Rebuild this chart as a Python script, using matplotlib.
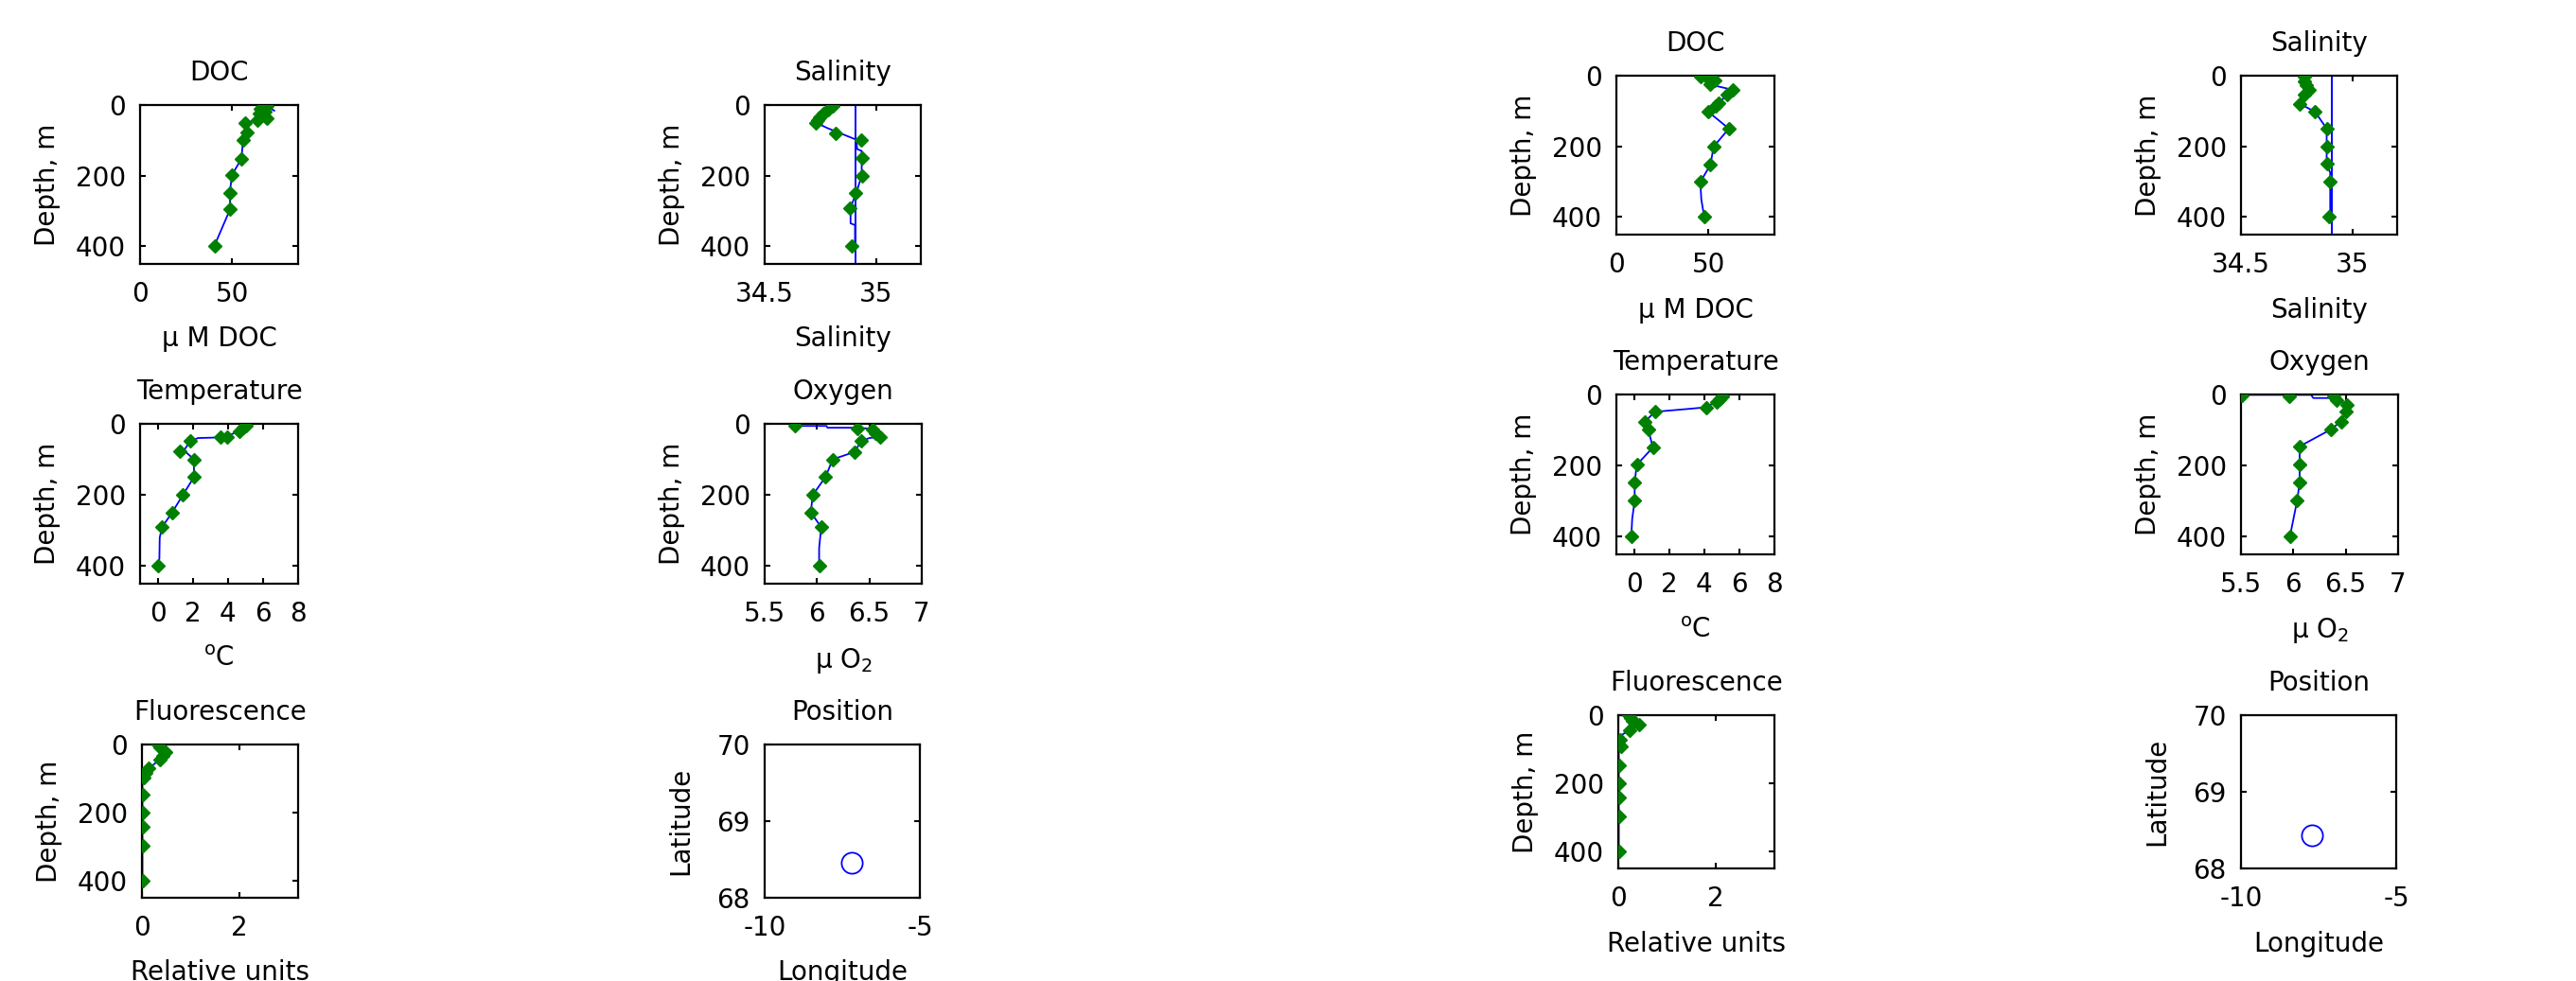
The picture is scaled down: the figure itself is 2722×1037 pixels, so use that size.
import matplotlib
matplotlib.use('Agg')
import matplotlib.pyplot as plt

plt.rcParams['font.family'] = ['DejaVu Sans']
plt.rcParams['font.size'] = 20
plt.rcParams['mathtext.fontset'] = 'dejavusans'

# ---------------- data: left station ----------------
doc_z_L = [3, 11, 20, 25, 38, 43, 50, 78, 100, 152, 198, 250, 294, 398]
doc_v_L = [69, 65.5, 68, 64.7, 69, 63.8, 57.4, 58.3, 56, 55.2, 50, 48.8, 49.1, 40.5]
doc_line_z_L = [16, 3, 11, 20, 25, 38, 43, 50, 78, 100, 152, 198, 250, 294, 398]
doc_line_v_L = [73, 69, 65.5, 68, 64.7, 69, 63.8, 57.4, 58.3, 56, 55.2, 50, 48.8, 49.1, 40.5]

sal_z_L = [3, 14, 25, 36, 44, 52, 80, 100, 149, 200, 250, 292, 398]
sal_v_L = [34.807, 34.786, 34.765, 34.748, 34.737, 34.73, 34.82, 34.932, 34.939, 34.939, 34.907, 34.882, 34.892]
sal_line_z_L = [3, 50, 65, 98, 125, 130, 200, 250, 290, 335, 340, 400]
sal_line_v_L = [34.83, 34.73, 34.78, 34.91, 34.915, 34.935, 34.935, 34.91, 34.885, 34.885, 34.905, 34.905]

tem_z_L = [4, 11, 20, 36, 36, 49, 78, 100, 149, 200, 249, 291, 400]
tem_v_L = [5.04, 4.85, 4.67, 3.95, 3.58, 1.85, 1.25, 2.07, 2.07, 1.44, 0.82, 0.25, 0.0]
tem_line_z_L = [0, 10, 20, 36, 39, 40, 49, 75, 100, 150, 200, 250, 291, 320, 380, 400]
tem_line_v_L = [5.15, 4.9, 4.65, 3.9, 3.1, 2.3, 1.85, 1.5, 2.07, 2.07, 1.44, 0.82, 0.25, 0.12, 0.1, 0.0]

oxy_z_L = [6, 12, 17, 26, 36, 49, 79, 100, 150, 200, 249, 291, 400]
oxy_v_L = [5.79, 6.39, 6.53, 6.56, 6.6, 6.42, 6.36, 6.15, 6.08, 5.96, 5.94, 6.04, 6.02]
oxy_line_z_L = [6, 6, 11, 11, 14, 26, 36, 40, 49, 79, 100, 150, 200, 249, 291, 350, 400]
oxy_line_v_L = [5.79, 6.09, 6.1, 6.39, 6.52, 6.56, 6.62, 6.5, 6.42, 6.36, 6.15, 6.08, 5.96, 5.94, 6.04, 6.02, 6.02]

flu_z_L = [1, 9, 23, 32, 44, 69, 83, 97, 148, 201, 243, 296, 400]
flu_v_L = [0.33, 0.36, 0.49, 0.43, 0.36, 0.13, 0.07, 0.03, 0.01, 0.01, 0.01, 0.01, 0.01]
flu_line_z_L = [1, 9, 23, 32, 44, 60, 69, 83, 100, 148, 400]
flu_line_v_L = [0.33, 0.36, 0.49, 0.43, 0.36, 0.23, 0.13, 0.07, 0.01, 0.01, 0.01]

lon_L = [-7.21]
lat_L = [68.46]

# ---------------- data: right station ----------------
doc_z_R = [4, 9, 13, 25, 40, 53, 78, 87, 102, 150, 201, 252, 301, 400]
doc_v_R = [45.7, 50, 53.4, 50.9, 63.3, 60.3, 55.7, 54.3, 50, 61.2, 52.9, 51.2, 45.7, 47.8]
doc_line_z_R = [4, 9, 13, 25, 40, 53, 78, 87, 102, 150, 201, 252, 301, 350, 400]
doc_line_v_R = [45.7, 50, 53.4, 50.9, 63.3, 60.3, 55.7, 54.3, 50, 61.2, 52.9, 51.2, 45.7, 46.2, 47.8]

sal_z_R = [4, 16, 27, 40, 53, 80, 102, 150, 201, 250, 301, 400]
sal_v_R = [34.785, 34.785, 34.792, 34.807, 34.785, 34.764, 34.832, 34.884, 34.884, 34.884, 34.898, 34.895]
sal_line_z_R = [4, 16, 27, 40, 53, 80, 102, 150, 201, 250, 275, 301, 400]
sal_line_v_R = [34.785, 34.785, 34.792, 34.807, 34.785, 34.764, 34.832, 34.884, 34.884, 34.884, 34.9, 34.9, 34.9]

tem_z_R = [6, 13, 20, 36, 49, 78, 98, 149, 198, 248, 299, 399]
tem_v_R = [5.04, 4.89, 4.71, 4.1, 1.19, 0.59, 0.81, 1.08, 0.16, 0.04, 0.04, -0.15]
tem_line_z_R = [2, 13, 20, 36, 40, 47, 49, 78, 98, 149, 198, 248, 299, 350, 399]
tem_line_v_R = [5.1, 4.89, 4.71, 4.1, 3.24, 1.6, 1.19, 0.59, 0.81, 1.08, 0.16, 0.04, 0.04, -0.1, -0.15]

oxy_z_R = [2, 4, 6, 15, 29, 47, 76, 99, 146, 197, 248, 299, 400]
oxy_v_R = [5.506, 5.96, 6.385, 6.415, 6.515, 6.506, 6.455, 6.355, 6.06, 6.06, 6.06, 6.036, 5.967]
oxy_line_z_R = [1, 1, 10, 10, 15, 29, 47, 76, 99, 146, 197, 248, 299, 400]
oxy_line_v_R = [5.506, 6.17, 6.19, 6.385, 6.415, 6.515, 6.506, 6.455, 6.355, 6.06, 6.06, 6.06, 6.036, 5.967]

flu_z_R = [1, 9, 18, 28, 44, 72, 93, 148, 199, 243, 296, 400]
flu_v_R = [0.21, 0.26, 0.3, 0.43, 0.23, 0.03, 0.05, 0.01, 0.01, 0.01, 0.01, 0.01]
flu_line_z_R = [1, 9, 18, 28, 44, 60, 72, 93, 110, 148, 400]
flu_line_v_R = [0.21, 0.26, 0.3, 0.43, 0.23, 0.05, 0.03, 0.05, 0.01, 0.01, 0.01]

lon_R = [-7.70]
lat_R = [68.43]

sal_ref = 34.908   # reference salinity line

# ---------------- layout ----------------
W, H = 2722, 1037
fig = plt.figure(figsize=(W / 100, H / 100), dpi=100)

GREEN = '#008000'
BLUE = '#0000ff'


def add_ax(x0, y0, x1, y1):
    return fig.add_axes([x0 / W, 1 - y1 / H, (x1 - x0) / W, (y1 - y0) / H])


def style(ax, title, xlabel, ylabel, xlim, xticks, xticklabels,
          ylim=(450, 0), yticks=(0, 200, 400), yticklabels=('0', '200', '400'), ylabelpad=11):
    ax.set_xlim(*xlim)
    ax.set_ylim(*ylim)
    ax.set_xticks(xticks)
    ax.set_xticklabels(xticklabels)
    ax.set_yticks(yticks)
    ax.set_yticklabels(yticklabels)
    ax.tick_params(direction='in', top=True, right=True, length=4, width=1.5)
    ax.tick_params(axis='x', pad=13)
    ax.tick_params(axis='y', pad=11)
    for s in ax.spines.values():
        s.set_linewidth(1.6)
    ax.set_title(title, pad=19, fontsize=20)
    ax.set_xlabel(xlabel, labelpad=14, fontsize=20)
    ax.set_ylabel(ylabel, labelpad=ylabelpad, fontsize=20)


def profile(ax, lz, lv, mz, mv):
    ax.plot(lv, lz, color=BLUE, lw=1.3, zorder=2)
    ax.plot(mv, mz, linestyle='none', marker='D', markersize=7,
            color=GREEN, markeredgecolor=GREEN, zorder=3)


stations = [
    dict(dx=0, dy=0,
         doc=(doc_line_z_L, doc_line_v_L, doc_z_L, doc_v_L),
         sal=(sal_line_z_L, sal_line_v_L, sal_z_L, sal_v_L),
         tem=(tem_line_z_L, tem_line_v_L, tem_z_L, tem_v_L),
         oxy=(oxy_line_z_L, oxy_line_v_L, oxy_z_L, oxy_v_L),
         flu=(flu_line_z_L, flu_line_v_L, flu_z_L, flu_v_L),
         pos=(lon_L, lat_L)),
    dict(dx=1560, dy=-31,
         doc=(doc_line_z_R, doc_line_v_R, doc_z_R, doc_v_R),
         sal=(sal_line_z_R, sal_line_v_R, sal_z_R, sal_v_R),
         tem=(tem_line_z_R, tem_line_v_R, tem_z_R, tem_v_R),
         oxy=(oxy_line_z_R, oxy_line_v_R, oxy_z_R, oxy_v_R),
         flu=(flu_line_z_R, flu_line_v_R, flu_z_R, flu_v_R),
         pos=(lon_R, lat_R)),
]

for st in stations:
    dx, dy = st['dx'], st['dy']
    # DOC
    ax = add_ax(148 + dx, 111 + dy, 315 + dx, 279 + dy)
    profile(ax, *st['doc'])
    style(ax, 'DOC', 'μ M DOC', 'Depth, m', (0, 86), [0, 50], ['0', '50'])
    # Salinity
    ax = add_ax(808 + dx, 111 + dy, 973 + dx, 279 + dy)
    ax.axvline(sal_ref, color=BLUE, lw=1.4, zorder=2)
    profile(ax, *st['sal'])
    style(ax, 'Salinity', 'Salinity', 'Depth, m', (34.5, 35.2), [34.5, 35], ['34.5', '35'])
    # Temperature
    ax = add_ax(148 + dx, 448 + dy, 315 + dx, 617 + dy)
    profile(ax, *st['tem'])
    style(ax, 'Temperature', r'$^{\mathrm{o}}$C', 'Depth, m', (-1, 8), [0, 2, 4, 6, 8],
          ['0', '2', '4', '6', '8'])
    # Oxygen
    ax = add_ax(808 + dx, 448 + dy, 974 + dx, 617 + dy)
    profile(ax, *st['oxy'])
    style(ax, 'Oxygen', r'μ O$_2$', 'Depth, m', (5.5, 7), [5.5, 6, 6.5, 7],
          ['5.5', '6', '6.5', '7'])
    # Fluorescence
    ax = add_ax(150 + dx, 787 + dy, 315 + dx, 949 + dy)
    profile(ax, *st['flu'])
    style(ax, 'Fluorescence', 'Relative units', 'Depth, m', (0, 3.2), [0, 2], ['0', '2'])
    # Position
    ax = add_ax(808 + dx, 787 + dy, 972 + dx, 949 + dy)
    lon, lat = st['pos']
    ax.plot(lon, lat, linestyle='none', marker='o', markersize=16, markerfacecolor='none',
            markeredgecolor=BLUE, markeredgewidth=1.3)
    style(ax, 'Position', 'Longitude', 'Latitude', (-10, -5), [-10, -5], ['-10', '-5'],
          ylim=(68, 70), yticks=[68, 69, 70], yticklabels=['68', '69', '70'], ylabelpad=17)

fig.savefig('out.png', dpi=100)
